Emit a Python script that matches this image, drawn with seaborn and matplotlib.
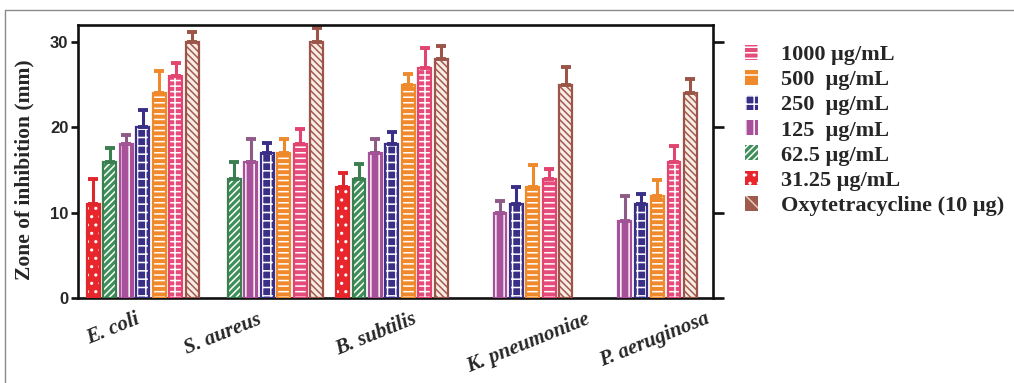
import numpy as np
import pandas as pd
import seaborn as sns
import matplotlib
matplotlib.use("Agg")
import matplotlib.pyplot as plt
from matplotlib.patches import Rectangle, Patch
from matplotlib.lines import Line2D
from matplotlib.transforms import ScaledTranslation

# ---------------- data ----------------
bacteria = ["E. coli", "S. aureus", "B. subtilis", "K. pneumoniae", "P. aeruginosa"]
treatments = ["31.25 μg/mL", "62.5 μg/mL", "125  μg/mL", "250  μg/mL",
              "500  μg/mL", "1000 μg/mL", "Oxytetracycline (10 μg)"]
legend_order = ["1000 μg/mL", "500  μg/mL", "250  μg/mL", "125  μg/mL",
                "62.5 μg/mL", "31.25 μg/mL", "Oxytetracycline (10 μg)"]

nan = np.nan
zone_31 = [11, nan, 13, nan, nan]
zone_62 = [16, 14, 14, nan, nan]
zone_125 = [18, 16, 17, 10, 9]
zone_250 = [20, 17, 18, 11, 11]
zone_500 = [24, 17, 25, 13, 12]
zone_1000 = [26, 18, 27, 14, 16]
zone_oxy = [30, 30, 28, 25, 24]

err_31 = [3.0, nan, 1.6, nan, nan]
err_62 = [1.6, 2.0, 1.7, nan, nan]
err_125 = [1.1, 2.6, 1.6, 1.4, 3.0]
err_250 = [2.0, 1.2, 1.4, 2.0, 1.2]
err_500 = [2.6, 1.6, 1.2, 2.6, 1.8]
err_1000 = [1.6, 1.8, 2.3, 1.1, 1.8]
err_oxy = [1.2, 1.7, 1.5, 2.1, 1.7]

y_ticks = [0, 10, 20, 30]

zones = [zone_31, zone_62, zone_125, zone_250, zone_500, zone_1000, zone_oxy]
errs = [err_31, err_62, err_125, err_250, err_500, err_1000, err_oxy]

# ---------------- styles ----------------
colors = {
    treatments[0]: "#E8262B",
    treatments[1]: "#3F8F5A",
    treatments[2]: "#A9509B",
    treatments[3]: "#3A2F86",
    treatments[4]: "#F0892B",
    treatments[5]: "#E54C7C",
    treatments[6]: "#F7ECE6",
}
err_colors = {
    treatments[0]: "#E0262B",
    treatments[1]: "#3B7F50",
    treatments[2]: "#8E5A86",
    treatments[3]: "#3A2F86",
    treatments[4]: "#EE8A2B",
    treatments[5]: "#E0446F",
    treatments[6]: "#9A5448",
}
edge_colors = dict(err_colors)
edge_colors[treatments[2]] = "#A9509B"
hatches = {
    treatments[0]: "..",
    treatments[1]: "/////",
    treatments[2]: "||",
    treatments[3]: "++",
    treatments[4]: "---",
    treatments[5]: "---|",
    treatments[6]: "\\\\\\\\\\",
}
hatch_colors = {t: "white" for t in treatments}
hatch_colors[treatments[6]] = "#A5594C"

rows = []
for t, zv in zip(treatments, zones):
    for b, v in zip(bacteria, zv):
        rows.append({"Bacteria": b, "Treatment": t, "Zone": v})
df = pd.DataFrame(rows)

sns.set_style("ticks")
plt.rcParams["hatch.linewidth"] = 1.1

fig = plt.figure(figsize=(10.14, 3.83), dpi=100)
ax = fig.add_axes([78 / 1014, 1 - 298 / 383, (713 - 78) / 1014, (298 - 25) / 383])

sns.barplot(data=df, x="Bacteria", y="Zone", hue="Treatment",
            order=bacteria, hue_order=treatments, palette=colors,
            errorbar=None, width=0.925, gap=0.22, ax=ax, legend=False,
            saturation=1)

for t, cont, ev in zip(treatments, ax.containers, errs):
    for bar in cont:
        h = bar.get_height()
        if not np.isfinite(h) or h <= 0:
            continue
        x0 = bar.get_x()
        w = bar.get_width()
        ci = int(round(x0 + w / 2))
        bar.set_hatch(hatches[t])
        bar.set_edgecolor(hatch_colors[t])
        bar.set_linewidth(0)
        ax.add_patch(Rectangle((x0, 0), w, h, fill=False,
                               edgecolor=edge_colors[t], lw=1.6, zorder=3))
        e = ev[ci]
        ax.errorbar([x0 + w / 2], [h], yerr=[[0], [e]], fmt="none",
                    ecolor=err_colors[t], elinewidth=2.2, capsize=3.6,
                    capthick=2.8, zorder=2)

ax.set_xlim(-0.52, 4.578)
ax.set_ylim(0, 32)
ax.set_yticks(y_ticks)
ax.set_yticklabels([str(v) for v in y_ticks])
ax.set_xlabel("")
ax.set_ylabel("Zone of inhibition (mm)", fontsize=15.5, fontweight="bold",
              family="Liberation Serif", labelpad=7)
ax.yaxis.set_label_coords(-0.068, 0.47)

for s in ["left", "right", "top", "bottom"]:
    ax.spines[s].set_visible(True)
    ax.spines[s].set_linewidth(1.9)
    ax.spines[s].set_color("#111111")

ax.tick_params(axis="y", which="both", left=True, right=True, labelright=False,
               direction="out", length=5, width=1.9, color="#111111",
               labelsize=12, pad=2)
for tl in ax.get_yticklabels():
    tl.set_fontweight("bold")
    tl.set_family("Liberation Sans")
for tk in ax.yaxis.get_major_ticks():
    tk.tick2line.set_markersize(8)

ax.tick_params(axis="x", length=0, pad=8)
ax.set_xticks(range(len(bacteria)))
ax.set_xticklabels(bacteria, rotation=22, ha="center", fontsize=15,
                   fontweight="bold", fontstyle="italic",
                   family="Liberation Serif")
shifts = [-30, -44, -16, 12, 14]
for tl, dx in zip(ax.get_xticklabels(), shifts):
    tl.set_transform(tl.get_transform() + ScaledTranslation(dx / 100, 0, fig.dpi_scale_trans))

# legend
handles = []
for t in legend_order:
    if t == treatments[6]:
        handles.append(Patch(facecolor="#9E5A4C", edgecolor="#E8C8B8",
                             hatch="\\\\", lw=0, label=t))
    else:
        handles.append(Patch(facecolor=colors[t], edgecolor="white",
                             hatch=hatches[t] if t != treatments[4] else "-",
                             lw=0, label=t))
leg = fig.legend(handles=handles, loc="upper left",
                 bbox_to_anchor=(745 / 1014, 1 - 45 / 383),
                 frameon=False, prop={"family": "Liberation Serif",
                                      "weight": "bold", "size": 16},
                 handlelength=0.6, handleheight=0.65, handletextpad=1.0,
                 labelspacing=0.22, borderaxespad=0, borderpad=0)

# figure frame
fig.add_artist(Line2D([5 / 1014, 5 / 1014], [0, 1 - 10 / 383],
                      transform=fig.transFigure, color="#8a8a8a", lw=1))
fig.add_artist(Line2D([5 / 1014, 1], [1 - 10 / 383, 1 - 10 / 383],
                      transform=fig.transFigure, color="#8a8a8a", lw=1))

fig.savefig("out.png", dpi=100)
